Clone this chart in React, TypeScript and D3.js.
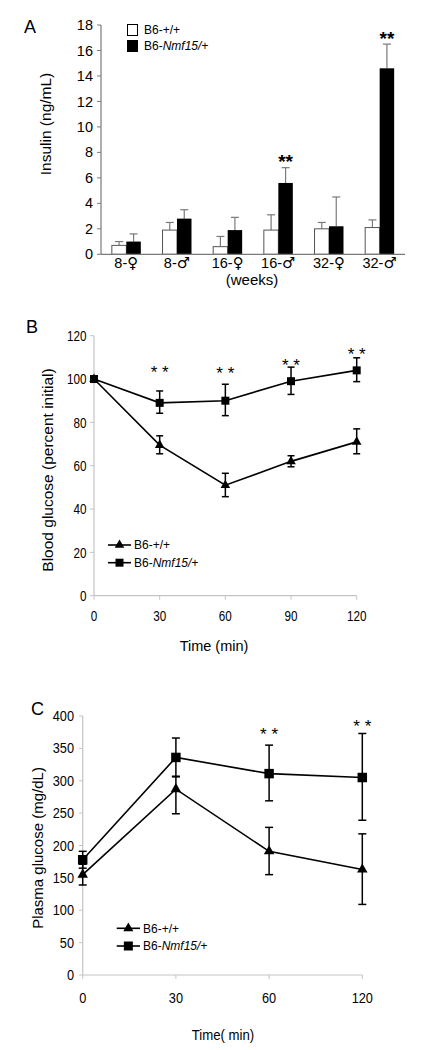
import React from 'react';
import * as d3 from 'd3';

// ---------- Panel A data ----------
const insulinAges = ['8', '8', '16', '16', '32', '32'];
const insulinSexes = ['♀', '♂', '♀', '♂', '♀', '♂'];
const insulinGroups = ['8-♀', '8-♂', '16-♀', '16-♂', '32-♀', '32-♂'];
const insulinWT = [0.7, 1.9, 0.6, 1.9, 2.0, 2.1];
const insulinWTErr = [0.3, 0.6, 0.8, 1.2, 0.5, 0.6];
const insulinMut = [1.0, 2.8, 1.9, 5.6, 2.2, 14.6];
const insulinMutErr = [0.6, 0.7, 1.0, 1.2, 2.3, 1.9];
const insulinSig = ['', '', '', '**', '', '**'];
const insulinTicks = [0, 2, 4, 6, 8, 10, 12, 14, 16, 18];

// ---------- Panel B data ----------
const itTimes = [0, 30, 60, 90, 120];
const itWT = [100, 69.5, 51, 62, 71];
const itWTLow = [100, 65.5, 45.7, 59.5, 65.5];
const itWTHigh = [100, 73.8, 56.5, 64.6, 77];
const itMut = [100, 89, 90, 99, 104];
const itMutLow = [100, 84.2, 83.1, 92.9, 98.8];
const itMutHigh = [100, 94.5, 97.6, 105.5, 109.8];
const itSig = ['', '* *', '* *', '* *', '* *'];
const itSigValue = [0, 105.1, 104.6, 108.5, 113.4];
const itTicksY = [0, 20, 40, 60, 80, 100, 120];

// ---------- Panel C data ----------
const gtTimes = ['0', '30', '60', '120'];
const gtWT = [155, 287, 191, 163];
const gtWTLow = [139, 249, 155, 109];
const gtWTHigh = [171, 307, 228, 218];
const gtMut = [178, 336, 311, 305];
const gtMutLow = [165, 306, 269, 239];
const gtMutHigh = [191, 366, 355, 373];
const gtSig = ['', '', '* *', '* *'];
const gtSigValue = [0, 0, 378.4, 390.3];
const gtTicksY = [0, 50, 100, 150, 200, 250, 300, 350, 400];

const SANS = 'Arial, "Liberation Sans", Helvetica, sans-serif';
const SYM = '"DejaVu Sans", sans-serif';

function NarrowText({ x, y, children, sx, fs, anchor }: { x: number; y: number; children: React.ReactNode; sx: number; fs: number; anchor: 'start' | 'middle' | 'end' }) {
  return (
    <text transform={`translate(${x},${y}) scale(${sx},1)`} dy="0.35em" textAnchor={anchor} fontFamily={SANS} fontSize={fs}>{children}</text>
  );
}

function PanelA() {
  const y = d3.scaleLinear().domain([0, 18]).range([254.3, 25]);
  const x = d3.scaleBand().domain(insulinGroups).range([101, 405]).paddingInner(0.428).paddingOuter(0.214);
  const sub = d3.scaleBand().domain(['wt', 'mut']).range([0, x.bandwidth()]);
  const bw = sub.bandwidth();
  const grey = '#7a7a7a';
  return (
    <g>
      <text x={24} y={33} fontFamily={SANS} fontSize={18}>A</text>
      {insulinGroups.map((g, i) => {
        const x0 = (x(g) as number);
        const xw = x0 + (sub('wt') as number);
        const xm = x0 + (sub('mut') as number);
        const errs = [
          { xc: xw + bw / 2, v: insulinWT[i], e: insulinWTErr[i] },
          { xc: xm + bw / 2, v: insulinMut[i], e: insulinMutErr[i] },
        ];
        return (
          <g key={g}>
            {errs.map((er, k) => (
              <g key={k} stroke={grey} strokeWidth={1.2}>
                <line x1={er.xc} x2={er.xc} y1={y(er.v)} y2={y(er.v + er.e)} />
                <line x1={er.xc - 4} x2={er.xc + 4} y1={y(er.v + er.e)} y2={y(er.v + er.e)} />
              </g>
            ))}
            <rect x={xw} y={y(insulinWT[i])} width={bw} height={y(0) - y(insulinWT[i])} fill="#fff" stroke="#555" strokeWidth={1} />
            <rect x={xm} y={y(insulinMut[i])} width={bw} height={y(0) - y(insulinMut[i])} fill="#000" />
            {insulinSig[i] && (
              <text x={xm + bw / 2} y={y(insulinMut[i] + insulinMutErr[i]) + 0.5} textAnchor="middle" fontFamily={SANS} fontSize={19} fontWeight="bold">{insulinSig[i]}</text>
            )}
            <text x={x0 + x.bandwidth() / 2} y={268} textAnchor="middle" fontFamily={SANS} fontSize={14.5}>
              {insulinAges[i]}-<tspan fontFamily={SYM} fontSize={15}>{insulinSexes[i]}</tspan>
            </text>
          </g>
        );
      })}
      <line x1={101} x2={101} y1={y(18)} y2={y(0)} stroke={grey} strokeWidth={1.2} />
      <line x1={101} x2={405} y1={y(0)} y2={y(0)} stroke={grey} strokeWidth={1.2} />
      {insulinTicks.map((t) => (
        <g key={t}>
          <line x1={97} x2={101} y1={y(t)} y2={y(t)} stroke={grey} />
          <text x={93} y={y(t)} dy="0.35em" textAnchor="end" fontFamily={SANS} fontSize={14.5}>{t}</text>
        </g>
      ))}
      <text x={252} y={285} textAnchor="middle" fontFamily={SANS} fontSize={15}>(weeks)</text>
      <text transform="translate(50.5,124) rotate(-90)" textAnchor="middle" fontFamily={SANS} fontSize={15.5}>Insulin (ng/mL)</text>
      <rect x={127.5} y={24.5} width={10} height={11} fill="#fff" stroke="#000" strokeWidth={1} />
      <rect x={127} y={40} width={11} height={12} fill="#000" />
      <text x={144} y={34} fontFamily={SANS} fontSize={12}>B6-+/+</text>
      <text x={144} y={50} fontFamily={SANS} fontSize={12}>B6-<tspan fontStyle="italic">Nmf15/+</tspan></text>
    </g>
  );
}

type LineProps = {
  xs: number[];
  y: d3.ScaleLinear<number, number>;
  wt: number[]; wtLow: number[]; wtHigh: number[];
  mut: number[]; mutLow: number[]; mutHigh: number[];
  sqSize: number; triSize: number; cap: number;
};

function Series({ xs, y, wt, wtLow, wtHigh, mut, mutLow, mutHigh, sqSize, triSize, cap }: LineProps) {
  const line = d3.line<number>().x((_, i) => xs[i]).y((d) => y(d));
  const sq = d3.symbol(d3.symbolSquare, sqSize)() as string;
  const tri = d3.symbol(d3.symbolTriangle, triSize)() as string;
  const err = (lo: number[], hi: number[]) =>
    xs.map((xc, i) => (
      <g key={i} stroke="#000" strokeWidth={1.5}>
        <line x1={xc} x2={xc} y1={y(lo[i])} y2={y(hi[i])} />
        <line x1={xc - cap / 2} x2={xc + cap / 2} y1={y(lo[i])} y2={y(lo[i])} />
        <line x1={xc - cap / 2} x2={xc + cap / 2} y1={y(hi[i])} y2={y(hi[i])} />
      </g>
    ));
  return (
    <g>
      {err(wtLow, wtHigh)}
      {err(mutLow, mutHigh)}
      <path d={line(wt) as string} fill="none" stroke="#000" strokeWidth={1.6} />
      <path d={line(mut) as string} fill="none" stroke="#000" strokeWidth={1.6} />
      {wt.map((v, i) => <path key={'t' + i} d={tri} transform={`translate(${xs[i]},${y(v)})`} fill="#000" />)}
      {mut.map((v, i) => <path key={'s' + i} d={sq} transform={`translate(${xs[i]},${y(v)})`} fill="#000" />)}
    </g>
  );
}

function Legend({ x0, x1, y0, y1, tx, sqSize, triSize, fs }: { x0: number; x1: number; y0: number; y1: number; tx: number; sqSize: number; triSize: number; fs: number }) {
  const sq = d3.symbol(d3.symbolSquare, sqSize)() as string;
  const tri = d3.symbol(d3.symbolTriangle, triSize)() as string;
  const xm = (x0 + x1) / 2;
  return (
    <g>
      <line x1={x0} x2={x1} y1={y0} y2={y0} stroke="#000" strokeWidth={1.6} />
      <path d={tri} transform={`translate(${xm},${y0})`} />
      <line x1={x0} x2={x1} y1={y1} y2={y1} stroke="#000" strokeWidth={1.6} />
      <path d={sq} transform={`translate(${xm},${y1})`} />
      <text x={tx} y={y0} dy="0.35em" fontFamily={SANS} fontSize={fs}>B6-+/+</text>
      <text x={tx} y={y1} dy="0.35em" fontFamily={SANS} fontSize={fs}>B6-<tspan fontStyle="italic">Nmf15/+</tspan></text>
    </g>
  );
}

function PanelB() {
  const y = d3.scaleLinear().domain([0, 120]).range([595.7, 335.7]);
  const x = d3.scaleLinear().domain([0, 120]).range([94, 356.7]);
  const axis = '#c4c4c4';
  const xs = itTimes.map((t) => x(t));
  const sfs = 17;
  return (
    <g>
      <text x={26} y={333} fontFamily={SANS} fontSize={18}>B</text>
      <line x1={94} x2={94} y1={y(120)} y2={y(0)} stroke={axis} strokeWidth={1.2} />
      <line x1={94} x2={356.7} y1={y(0)} y2={y(0)} stroke={axis} strokeWidth={1.2} />
      {itTicksY.map((t) => (
        <g key={t}>
          <line x1={90} x2={94} y1={y(t)} y2={y(t)} stroke={axis} />
          <NarrowText x={86.5} y={y(t)} sx={0.78} fs={15} anchor="end">{t}</NarrowText>
        </g>
      ))}
      {itTimes.map((t) => (
        <g key={t}>
          <line x1={x(t)} x2={x(t)} y1={y(0)} y2={y(0) + 4} stroke={axis} />
          <NarrowText x={x(t)} y={616} sx={0.78} fs={15} anchor="middle">{t}</NarrowText>
        </g>
      ))}
      <text x={214} y={646} dy="0.35em" textAnchor="middle" fontFamily={SANS} fontSize={14.5}>Time (min)</text>
      <text transform="translate(53,470) rotate(-90)" textAnchor="middle" fontFamily={SANS} fontSize={15.5}>Blood glucose (percent initial)</text>
      <Series xs={xs} y={y} wt={itWT} wtLow={itWTLow} wtHigh={itWTHigh} mut={itMut} mutLow={itMutLow} mutHigh={itMutHigh} sqSize={64} triSize={40} cap={7} />
      {itSig.map((s, i) => s && (
        <text key={i} x={xs[i]} y={y(itSigValue[i]) + sfs * 0.6} textAnchor="middle" fontFamily={SANS} fontSize={sfs}>{s}</text>
      ))}
      <Legend x0={108} x1={131} y0={545} y1={562.7} tx={134} sqSize={64} triSize={40} fs={12} />
    </g>
  );
}

function PanelC() {
  const y = d3.scaleLinear().domain([0, 400]).range([975, 716]);
  const x = d3.scalePoint().domain(gtTimes).range([82.7, 362.3]);
  const axis = '#c4c4c4';
  const xs = gtTimes.map((t) => x(t) as number);
  const sfs = 17;
  return (
    <g>
      <text x={31} y={715} fontFamily={SANS} fontSize={18}>C</text>
      <line x1={82.7} x2={82.7} y1={y(400)} y2={y(0)} stroke={axis} strokeWidth={1.2} />
      <line x1={82.7} x2={362.3} y1={y(0)} y2={y(0)} stroke={axis} strokeWidth={1.2} />
      {gtTicksY.map((t) => (
        <g key={t}>
          <line x1={79} x2={82.7} y1={y(t)} y2={y(t)} stroke={axis} />
          <NarrowText x={74} y={y(t)} sx={0.88} fs={14.5} anchor="end">{t}</NarrowText>
        </g>
      ))}
      {gtTimes.map((t) => (
        <g key={t}>
          <line x1={x(t)} x2={x(t)} y1={y(0)} y2={y(0) + 4} stroke={axis} />
          <NarrowText x={x(t) as number} y={998} sx={0.88} fs={14.5} anchor="middle">{t}</NarrowText>
        </g>
      ))}
      <NarrowText x={223} y={1035} sx={0.88} fs={15} anchor="middle">Time( min)</NarrowText>
      <text transform="translate(43,848) rotate(-90)" textAnchor="middle" fontFamily={SANS} fontSize={15}>Plasma glucose (mg/dL)</text>
      <Series xs={xs} y={y} wt={gtWT} wtLow={gtWTLow} wtHigh={gtWTHigh} mut={gtMut} mutLow={gtMutLow} mutHigh={gtMutHigh} sqSize={90} triSize={48} cap={8} />
      {gtSig.map((s, i) => s && (
        <text key={i} x={xs[i]} y={y(gtSigValue[i]) + sfs * 0.6} textAnchor="middle" fontFamily={SANS} fontSize={sfs}>{s}</text>
      ))}
      <Legend x0={116.7} x1={140} y0={928.3} y1={946} tx={143} sqSize={81} triSize={44} fs={12} />
    </g>
  );
}

export default function App() {
  return (
    <svg width={429} height={1050} viewBox="0 0 429 1050" style={{ position: 'absolute', left: 0, top: 0, background: '#fff' }}>
      <rect width={429} height={1050} fill="#fff" />
      <PanelA />
      <PanelB />
      <PanelC />
    </svg>
  );
}
